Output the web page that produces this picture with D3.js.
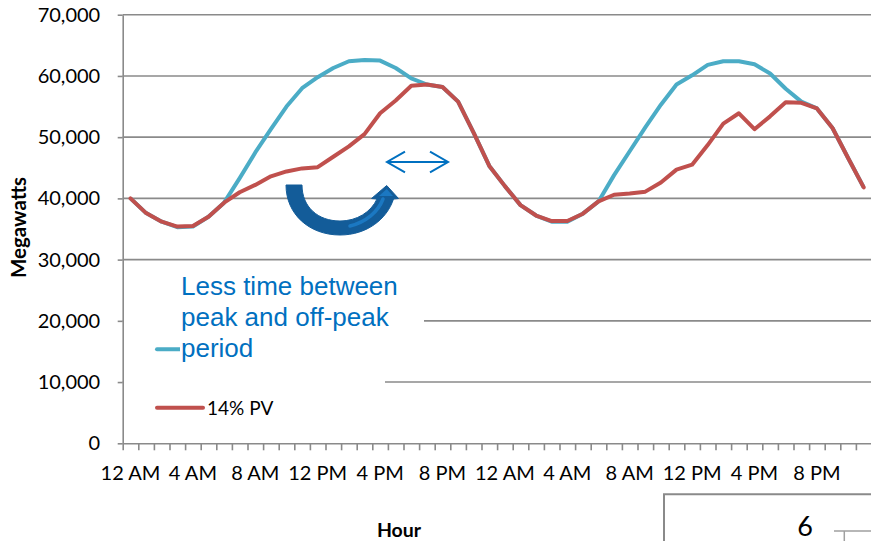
<!DOCTYPE html>
<html><head><meta charset="utf-8">
<script src="https://cdn.jsdelivr.net/npm/d3@7"></script>
<style>body{margin:0;background:#fff} svg{display:block}</style>
</head><body><svg id="c" width="871" height="541"></svg>
<script>
// ---- data ----
const hourLabels = ["12 AM","4 AM","8 AM","12 PM","4 PM","8 PM","12 AM","4 AM","8 AM","12 PM","4 PM","8 PM"];
const labelHours = [0,4,8,12,16,20,24,28,32,36,40,44];
const yTicks = [0,10000,20000,30000,40000,50000,60000,70000];
const baseLoad = [40000,37600,36200,35300,35400,37000,39300,43300,47500,51300,55000,58000,
  59800,61300,62400,62600,62500,61300,59600,58600,58200,55800,50700,45300,
  42000,38900,37200,36200,36200,37500,39500,43800,47700,51600,55300,58600,
  60100,61800,62400,62400,61900,60400,57900,55800,54700,51500,46600,41800];
const pv14Load = [40000,37600,36200,35400,35500,37000,39300,41000,42200,43600,44400,44900,
  45100,46800,48500,50500,53900,56000,58400,58600,58200,55800,50700,45300,
  42000,38900,37200,36300,36300,37500,39500,40600,40800,41100,42600,44700,
  45500,48700,52200,53900,51300,53400,55700,55600,54700,51500,46600,41800];
const legendLabels = ["", "14% PV"];
const noteLines = ["Less time between","peak and off-peak","period"];

// ---- chart ----
const svg = d3.select("#c");
const x = d3.scaleLinear().domain([0,48]).range([122.7,871.5]);
const y = d3.scaleLinear().domain([0,70000]).range([443.3,14.7]);
const gridCol = "#8a8a8a";

// gridlines
svg.append("g").selectAll("line").data(yTicks.filter(d=>d>0)).join("line")
  .attr("x1",x(0)).attr("x2",871).attr("y1",d=>y(d)).attr("y2",d=>y(d))
  .attr("stroke",gridCol).attr("stroke-width",1.6);

// legend box (hides part of gridlines)
svg.append("rect").attr("x",124).attr("y",300).attr("width",261).attr("height",128).attr("fill","#fff");

// y axis
const ya = svg.append("g").attr("transform",`translate(${x(0)},0)`)
  .call(d3.axisLeft(y).tickValues(yTicks).tickFormat(d3.format(",")).tickSize(5).tickSizeOuter(0).tickPadding(17.5));
ya.selectAll("path,line").attr("stroke",gridCol).attr("stroke-width",1.6);
ya.selectAll("text").attr("font-family","Lato").attr("font-size",20).attr("fill","#000");

// x axis
const xa = svg.append("g").attr("transform",`translate(0,${y(0)})`)
  .call(d3.axisBottom(x).tickValues(d3.range(49)).tickFormat("").tickSize(7).tickSizeOuter(0));
xa.selectAll("path,line").attr("stroke",gridCol).attr("stroke-width",1.6);
svg.append("g").selectAll("text").data(labelHours).join("text")
  .attr("x",(d)=>x(d+0.5)).attr("y",480).attr("text-anchor","middle")
  .attr("font-family","Lato").attr("font-size",20).attr("fill","#000")
  .text((d,i)=>hourLabels[i]);

// titles
svg.append("text").attr("transform","translate(25.5,227.5) rotate(-90)")
  .attr("text-anchor","middle").attr("font-family","Lato").attr("font-weight","bold")
  .attr("font-size",20.5).text("Megawatts");
svg.append("text").attr("x",399).attr("y",536.5).attr("text-anchor","middle")
  .attr("font-family","Lato").attr("font-weight","bold").attr("font-size",19.5).text("Hour");

// series
const line = d3.line().x((d,i)=>x(i+0.5)).y(d=>y(d));
svg.append("path").datum(baseLoad).attr("d",line).attr("fill","none")
  .attr("stroke","#4BACC6").attr("stroke-width",4).attr("stroke-linejoin","round");
svg.append("path").datum(pv14Load).attr("d",line).attr("fill","none")
  .attr("stroke","#C0504D").attr("stroke-width",4).attr("stroke-linejoin","round").attr("stroke-linecap","round");

// legend
const legColors = ["#4BACC6","#C0504D"];
const legY = [349.3,407.7];
legColors.forEach((c,i)=>{
  svg.append("line").attr("x1",157).attr("x2",203).attr("y1",legY[i]).attr("y2",legY[i])
    .attr("stroke",c).attr("stroke-width",4).attr("stroke-linecap","round");
  svg.append("text").attr("x",207).attr("y",legY[i]+7.3).attr("font-family","Lato")
    .attr("font-size",19).attr("fill","#000").text(legendLabels[i]);
});

// note text box
svg.append("rect").attr("x",180).attr("y",266).attr("width",244).attr("height",98).attr("fill","#fff");
svg.append("g").selectAll("text").data(noteLines).join("text")
  .attr("x",181).attr("y",(d,i)=>295+i*30.8)
  .attr("font-family","Liberation Sans, Arial").attr("font-size",26).attr("fill","#0070C0")
  .text(d=>d);

// double-headed arrow
const ag = svg.append("g").attr("stroke","#0070C0").attr("stroke-width",2).attr("fill","none");
ag.append("line").attr("x1",387).attr("x2",448).attr("y1",162).attr("y2",162);
ag.append("path").attr("d","M405,151.7 L387,162 L405,172.3");
ag.append("path").attr("d","M430,151.7 L448,162 L430,172.3");

// curved arrow
svg.append("path")
  .attr("d","M286,185 C286,214 309,235 340,235 C367,235 387,219 393.5,199 L398.5,198.5 L386.7,185.5 L371.5,198.5 L377,199 C371,212 357,221 340,221 C318,221 302,207 302,185 Z")
  .attr("fill","#135C99").attr("stroke","#135C99").attr("stroke-width",1).attr("stroke-linejoin","round");
svg.append("path").attr("d","M350,226 C366,222 378,212 383,199")
  .attr("fill","none").attr("stroke","#1B78C2").attr("stroke-width",3.5).attr("stroke-linecap","round");
svg.append("path").attr("d","M379,196 L386.7,189 L393,196 Z").attr("fill","#1B78C2");

// page-number box
svg.append("path").attr("d","M664,541 L664,494.3 L871,494.3").attr("fill","none")
  .attr("stroke","#8a8a8a").attr("stroke-width",2);
svg.append("text").attr("x",805).attr("y",536).attr("text-anchor","middle")
  .attr("font-family","Lato").attr("font-size",27).attr("fill","#000").text("6");
svg.append("path").attr("d","M834,531 L871,531 M844.3,531 L844.3,541").attr("fill","none")
  .attr("stroke","#a0a0a0").attr("stroke-width",1.5);
</script></body></html>
